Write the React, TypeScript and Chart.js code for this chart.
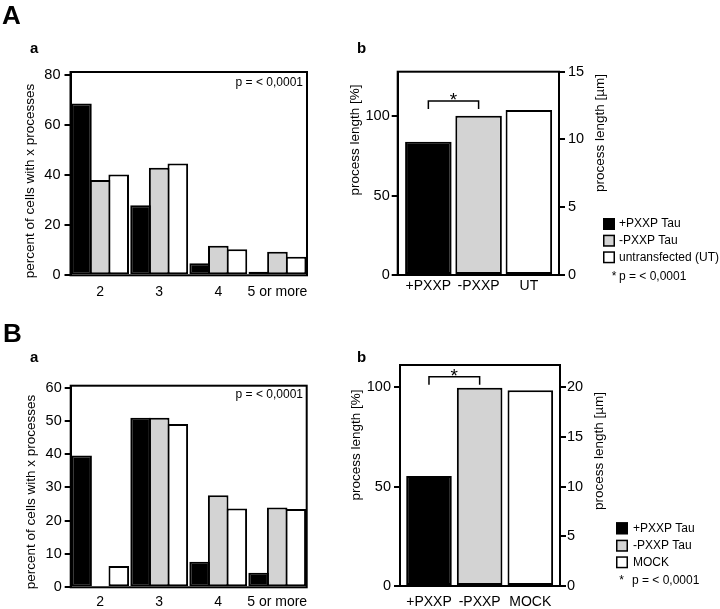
import React, { useEffect, useRef } from 'react';
import { Chart, registerables } from 'chart.js';

Chart.register(...registerables);

// ---------------- data ----------------
// Panel A a : percent of cells with x processes
const processCategories = ['2', '3', '4', '5 or more'];
const seriesLabelsA = ['+PXXP Tau', '-PXXP Tau', 'untransfected (UT)'];
const aPlusPXXP = [68.7, 28.0, 4.8, 1.4];
const aMinusPXXP = [38.1, 43.0, 11.8, 9.4];
const aUntransfected = [40.3, 44.7, 10.4, 7.4];
const aPercentTicks = [0, 20, 40, 60, 80];

// Panel A b : process length
const lengthCategoriesA = ['+PXXP', '-PXXP', 'UT'];
const aLengthPercent = [83.8, 100.2, 103.8];
const aLengthPercentTicks = [0, 50, 100];
const aLengthUmTicks = [0, 5, 10, 15];

// Panel B a : percent of cells with x processes
const seriesLabelsB = ['+PXXP Tau', '-PXXP Tau', 'MOCK'];
const bPlusPXXP = [39.6, 51.0, 7.7, 4.4];
const bMinusPXXP = [0, 51.0, 27.7, 24.0];
const bMock = [6.4, 49.1, 23.7, 23.5];
const bPercentTicks = [0, 10, 20, 30, 40, 50, 60];

// Panel B b : process length
const lengthCategoriesB = ['+PXXP', '-PXXP', 'MOCK'];
const bLengthPercent = [55.4, 99.7, 98.5];
const bLengthPercentTicks = [0, 50, 100];
const bLengthUmTicks = [0, 5, 10, 15, 20];

// texts
const pValueText = 'p = < 0,0001';
const titlePercent = 'percent of cells with x processes';
const titleLengthPct = 'process length [%]';
const titleLengthUm = 'process length [µm]';
const significanceMark = '*';

// ---------------- styles ----------------
const FONT = "'Liberation Sans', Arial, Helvetica, sans-serif";
const BLACK = '#000000';
const GRAY = '#d3d3d3';
const WHITE = '#ffffff';
const SERIES_COLORS = [BLACK, GRAY, WHITE];

type TextItem = {
  text: string;
  x: number;
  y: number;
  font: string;
  align?: CanvasTextAlign;
  baseline?: CanvasTextBaseline;
  rotate?: boolean;
};

type DecorOptions = {
  texts: TextItem[];
  bracket?: { from: number; to: number; top: number; leg: number };
  legend?: {
    x: number;
    size: number;
    ys: number[];
    textX: number;
    labels: string[];
    colors: string[];
    note: { starX: number; textX: number; y: number };
  };
};

function decor(o: DecorOptions) {
  return {
    id: 'decor',
    afterDatasetsDraw(chart: any) {
      const ctx: CanvasRenderingContext2D = chart.ctx;
      const a = chart.chartArea;
      ctx.save();
      ctx.strokeStyle = BLACK;
      ctx.fillStyle = BLACK;
      ctx.lineWidth = 2;
      ctx.strokeRect(a.left, a.top, a.right - a.left, a.bottom - a.top);

      if (o.bracket) {
        const bars = chart.getDatasetMeta(0).data;
        const x1 = bars[o.bracket.from].x;
        const x2 = bars[o.bracket.to].x;
        const ys = chart.scales.y;
        const yTop = ys.getPixelForValue(o.bracket.top);
        const yLeg = ys.getPixelForValue(o.bracket.leg);
        ctx.lineWidth = 1.5;
        ctx.beginPath();
        ctx.moveTo(x1, yLeg);
        ctx.lineTo(x1, yTop);
        ctx.lineTo(x2, yTop);
        ctx.lineTo(x2, yLeg);
        ctx.stroke();
        ctx.font = `19px ${FONT}`;
        ctx.textAlign = 'center';
        ctx.textBaseline = 'alphabetic';
        ctx.fillText(significanceMark, (x1 + x2) / 2, yTop + 5);
      }

      for (const t of o.texts) {
        ctx.save();
        ctx.font = t.font;
        ctx.fillStyle = BLACK;
        ctx.textAlign = t.align ?? 'left';
        ctx.textBaseline = t.baseline ?? 'alphabetic';
        ctx.translate(t.x, t.y);
        if (t.rotate) ctx.rotate(-Math.PI / 2);
        ctx.fillText(t.text, 0, 0);
        ctx.restore();
      }

      if (o.legend) {
        const L = o.legend;
        ctx.font = `12px ${FONT}`;
        ctx.textAlign = 'left';
        ctx.textBaseline = 'middle';
        ctx.lineWidth = 1.5;
        L.labels.forEach((label, i) => {
          const cy = L.ys[i];
          ctx.fillStyle = L.colors[i];
          ctx.fillRect(L.x, cy - L.size / 2, L.size, L.size);
          ctx.strokeStyle = BLACK;
          ctx.strokeRect(L.x + 0.75, cy - L.size / 2 + 0.75, L.size - 1.5, L.size - 1.5);
          ctx.fillStyle = BLACK;
          ctx.fillText(label, L.textX, cy);
        });
        ctx.fillStyle = BLACK;
        ctx.textAlign = 'center';
        ctx.fillText(significanceMark, L.note.starX, L.note.y);
        ctx.textAlign = 'left';
        ctx.fillText(pValueText, L.note.textX, L.note.y);
      }
      ctx.restore();
    },
  };
}

function yAxis(tickValues: number[], max: number, position: 'left' | 'right', width: number, tickPadding: number) {
  return {
    type: 'linear',
    position,
    min: 0,
    max,
    afterBuildTicks: (scale: any) => {
      scale.ticks = tickValues.map((value) => ({ value }));
    },
    afterFit: (scale: any) => {
      scale.width = width;
    },
    grid: { drawOnChartArea: false, drawTicks: true, tickLength: 6, color: BLACK, lineWidth: 2 },
    border: { display: true, color: BLACK, width: 2 },
    ticks: { color: BLACK, font: { family: FONT, size: 14.5 }, padding: tickPadding, autoSkip: false },
  };
}

function categoryAxis(height: number, padding: number) {
  return {
    type: 'category',
    offset: true,
    grid: { display: false, drawTicks: false },
    border: { display: false },
    ticks: { color: BLACK, font: { family: FONT, size: 14 }, padding, autoSkip: false, maxRotation: 0, minRotation: 0 },
    afterFit: (scale: any) => {
      scale.height = height;
    },
  };
}

function indexAxis(labels: string[], min: number, max: number, height: number, padding: number) {
  return {
    type: 'linear',
    offset: false,
    min,
    max,
    afterBuildTicks: (scale: any) => {
      scale.ticks = labels.map((_, i) => ({ value: i }));
    },
    grid: { display: false, drawTicks: false },
    border: { display: false },
    ticks: {
      color: BLACK,
      font: { family: FONT, size: 14 },
      padding,
      autoSkip: false,
      maxRotation: 0,
      minRotation: 0,
      callback: (v: number) => labels[v] ?? '',
    },
    afterFit: (scale: any) => {
      scale.height = height;
    },
  };
}

const common = {
  responsive: false,
  animation: false,
  devicePixelRatio: 1,
  events: [],
  plugins: { legend: { display: false }, tooltip: { enabled: false } },
};

function groupedDatasets(labels: string[], series: number[][]) {
  return series.map((data, i) => ({
    label: labels[i],
    data,
    backgroundColor: SERIES_COLORS[i],
    borderColor: BLACK,
    borderWidth: 2,
    borderSkipped: false,
    categoryPercentage: 0.945,
    barPercentage: 1.107,
  }));
}

function configAa() {
  return {
    type: 'bar',
    data: {
      labels: processCategories,
      datasets: groupedDatasets(seriesLabelsA, [aPlusPXXP, aMinusPXXP, aUntransfected]),
    },
    options: {
      ...common,
      layout: { padding: { left: 25.5, right: 413, top: 72, bottom: 303.7 } },
      scales: {
        x: categoryAxis(30, 8.3),
        y: yAxis(aPercentTicks, 81.3, 'left', 45, 4),
      },
    },
    plugins: [
      decor({
        texts: [
          { text: 'A', x: 2, y: 24, font: `bold 26px ${FONT}` },
          { text: 'a', x: 30, y: 53, font: `bold 15px ${FONT}` },
          { text: pValueText, x: 303, y: 83, font: `12px ${FONT}`, align: 'right', baseline: 'middle' },
          { text: titlePercent, x: 30, y: 181, font: `13.5px ${FONT}`, align: 'center', baseline: 'middle', rotate: true },
        ],
      }),
    ],
  };
}

function configAb() {
  return {
    type: 'bar',
    data: {
      datasets: [
        {
          label: titleLengthPct,
          data: aLengthPercent.map((y, i) => ({ x: i, y })),
          backgroundColor: SERIES_COLORS,
          borderColor: BLACK,
          borderWidth: 2,
          borderSkipped: false,
          barPercentage: 0.926,
          categoryPercentage: 1,
          yAxisID: 'y',
        },
      ],
    },
    options: {
      ...common,
      layout: { padding: { left: 357.7, right: 121, top: 71.7, bottom: 304 } },
      scales: {
        x: indexAxis(lengthCategoriesA, -0.61, 2.6, 30, 2.6),
        y: yAxis(aLengthPercentTicks, 127.9, 'left', 40, 2),
        y2: yAxis(aLengthUmTicks, 15, 'right', 40, 3),
      },
    },
    plugins: [
      decor({
        texts: [
          { text: 'b', x: 357, y: 53, font: `bold 15px ${FONT}` },
          { text: titleLengthPct, x: 355, y: 140, font: `13.5px ${FONT}`, align: 'center', baseline: 'middle', rotate: true },
          { text: titleLengthUm, x: 600, y: 133, font: `13.5px ${FONT}`, align: 'center', baseline: 'middle', rotate: true },
        ],
        bracket: { from: 0, to: 1, top: 109.4, leg: 104.4 },
        legend: {
          x: 603,
          size: 12,
          ys: [224, 240.7, 257.3],
          textX: 619,
          labels: seriesLabelsA,
          colors: SERIES_COLORS,
          note: { starX: 614, textX: 619, y: 276.7 },
        },
      }),
    ],
  };
}

function configBa() {
  return {
    type: 'bar',
    data: {
      labels: processCategories,
      datasets: groupedDatasets(seriesLabelsB, [bPlusPXXP, bMinusPXXP, bMock]),
    },
    options: {
      ...common,
      layout: { padding: { left: 25.7, right: 413.3, top: 385.7, bottom: 1.7 } },
      scales: {
        x: categoryAxis(20, 6),
        y: yAxis(bPercentTicks, 60.6, 'left', 45, 3),
      },
    },
    plugins: [
      decor({
        texts: [
          { text: 'B', x: 3, y: 342, font: `bold 26px ${FONT}` },
          { text: 'a', x: 30, y: 362, font: `bold 15px ${FONT}` },
          { text: pValueText, x: 303, y: 395, font: `12px ${FONT}`, align: 'right', baseline: 'middle' },
          { text: titlePercent, x: 31, y: 492, font: `13.5px ${FONT}`, align: 'center', baseline: 'middle', rotate: true },
        ],
      }),
    ],
  };
}

function configBb() {
  return {
    type: 'bar',
    data: {
      datasets: [
        {
          label: titleLengthPct,
          data: bLengthPercent.map((y, i) => ({ x: i, y })),
          backgroundColor: SERIES_COLORS,
          borderColor: BLACK,
          borderWidth: 2,
          borderSkipped: false,
          barPercentage: 0.9,
          categoryPercentage: 1,
          yAxisID: 'y',
        },
      ],
    },
    options: {
      ...common,
      layout: { padding: { left: 360, right: 120, top: 365, bottom: 3 } },
      scales: {
        x: indexAxis(lengthCategoriesB, -0.572, 2.586, 20, 8),
        y: yAxis(bLengthPercentTicks, 111.2, 'left', 40, 3),
        y2: yAxis(bLengthUmTicks, 22.24, 'right', 40, 1),
      },
    },
    plugins: [
      decor({
        texts: [
          { text: 'b', x: 357, y: 362, font: `bold 15px ${FONT}` },
          { text: titleLengthPct, x: 356, y: 445, font: `13.5px ${FONT}`, align: 'center', baseline: 'middle', rotate: true },
          { text: titleLengthUm, x: 599, y: 451, font: `13.5px ${FONT}`, align: 'center', baseline: 'middle', rotate: true },
        ],
        bracket: { from: 0, to: 1, top: 105.3, leg: 101.2 },
        legend: {
          x: 616,
          size: 12,
          ys: [528.3, 545.7, 562.3],
          textX: 633,
          labels: seriesLabelsB,
          colors: SERIES_COLORS,
          note: { starX: 621.7, textX: 632, y: 580.7 },
        },
      }),
    ],
  };
}

export default function App() {
  const r1 = useRef<HTMLCanvasElement>(null);
  const r2 = useRef<HTMLCanvasElement>(null);
  const r3 = useRef<HTMLCanvasElement>(null);
  const r4 = useRef<HTMLCanvasElement>(null);
  const refs = [r1, r2, r3, r4];

  useEffect(() => {
    const configs = [configAa(), configAb(), configBa(), configBb()];
    const charts = configs.map((cfg, i) => new Chart(refs[i].current as HTMLCanvasElement, cfg as any));
    return () => charts.forEach((c) => c.destroy());
  }, []);

  return (
    <div style={{ position: 'absolute', left: 0, top: 0, width: 720, height: 609, background: '#ffffff' }}>
      {refs.map((r, i) => (
        <canvas
          key={i}
          ref={r}
          width={720}
          height={609}
          style={{ position: 'absolute', left: 0, top: 0, width: 720, height: 609 }}
        />
      ))}
    </div>
  );
}
